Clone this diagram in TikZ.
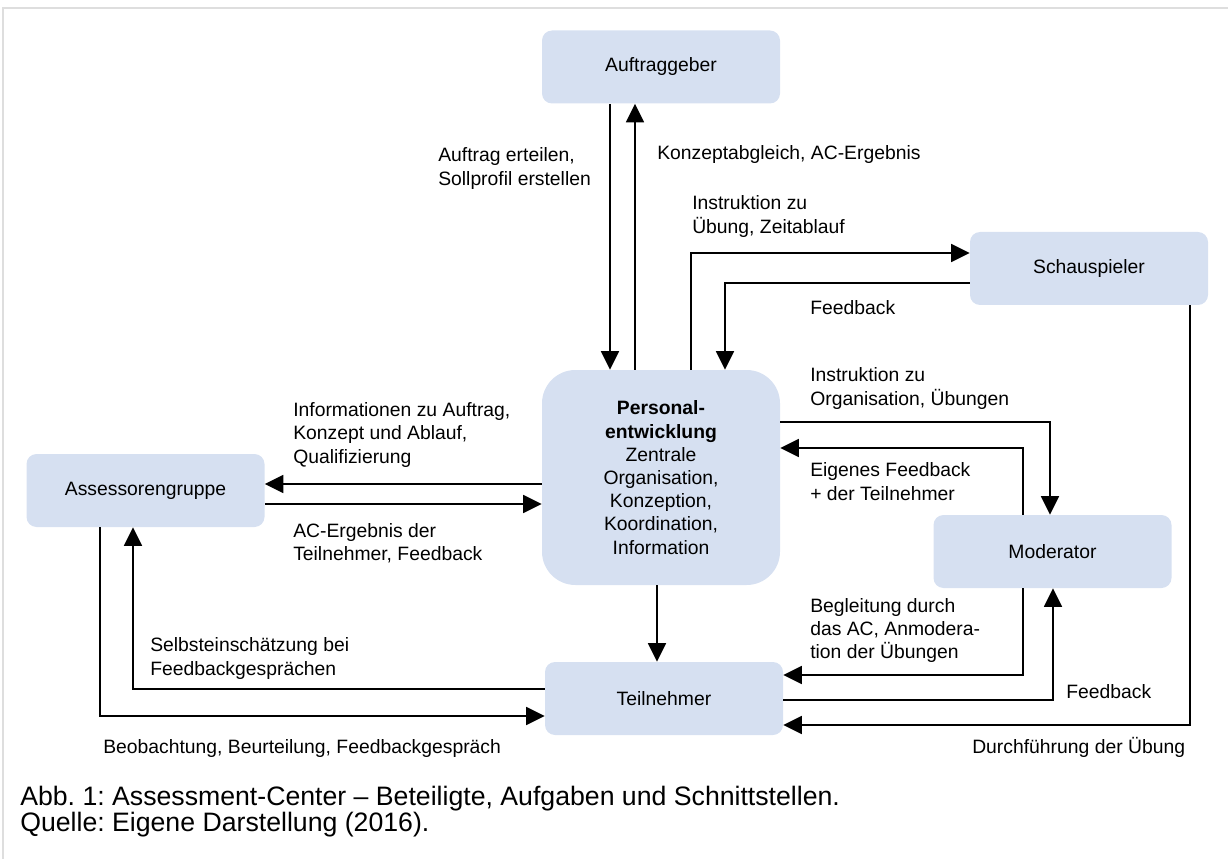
\documentclass[tikz,border=0pt]{standalone}
\usepackage{fontspec}
\setmainfont{Liberation Sans}
\usetikzlibrary{arrows.meta}
\usetikzlibrary{calc}

\definecolor{boxblue}{RGB}{214,224,241}
\definecolor{framegray}{RGB}{222,222,222}
\frenchspacing

\begin{document}
\begin{tikzpicture}[x=0.75pt,y=-0.75pt,>={Triangle[length=14pt,width=13.5pt]},
		every node/.style={font=\fontsize{14.5}{17.4}\selectfont},
		box/.style={rounded corners=7.5pt,fill=boxblue,minimum width=178.5pt,minimum height=54.75pt,align=center,inner sep=0pt},
		lbl/.style={anchor=west,align=left,inner sep=0pt},
		flow/.style={line width=1.3pt,->}]
		\useasboundingbox (0,0) rectangle (1228,859);
		\draw[framegray,line width=1.5pt] (3,859) -- (3,8) -- (1228,8);

		% Beteiligte
		\node at (661,67)     (auftrag) [box] {Auftraggeber};
		\node at (1089,268.5) (schau)   [box] {Schauspieler};
		\node at (661,477.5)  (pe)      [box,minimum height=161.25pt,rounded corners=25pt] {\textbf{Personal-}\\\textbf{entwicklung}\\Zentrale\\Organisation,\\Konzeption,\\Koordination,\\Information};
		\node at (145.5,490.5) (assess) [box] {Assessorengruppe};
		\node at (1052.5,551.5) (moder) [box] {Moderator};
		\node at (664,698.5)  (teiln)   [box] {Teilnehmer};

		% Auftraggeber <-> Personalentwicklung
		\draw[flow] (auftrag.south -| 610,0) -- (pe.north -| 610,0);
		\draw[flow] (pe.north -| 635,0) -- (auftrag.south -| 635,0);
		\node[lbl] at (438,168.5) (l1) {Auftrag erteilen,\\Sollprofil erstellen};
		\node[lbl] at (657,155) (l2) {Konzeptabgleich, AC-Ergebnis};

		% Schauspieler
		\draw[flow] (pe.north -| 691,0) |- (schau.west |- 0,253);
		\draw[flow] (schau.west |- 0,283) -| (pe.north -| 725,0);
		\node[lbl] at (692,216.5) (l3) {Instruktion zu\\Übung, Zeitablauf};
		\node[lbl] at (810,308) (l4) {Feedback};

		% Moderator
		\draw[flow] (pe.east |- 0,422) -| (moder.north -| 1050,0);
		\draw[flow] (moder.north -| 1023,0) |- (pe.east |- 0,448);
		\node[lbl] at (810,388.5) (l5) {Instruktion zu\\Organisation, Übungen};
		\node[lbl] at (810,481.5) (l6) {Eigenes Feedback\\+ der Teilnehmer};

		% Assessorengruppe
		\draw[flow] (pe.west |- 0,484) -- (assess.east |- 0,484);
		\draw[flow] (assess.east |- 0,504) -- (pe.west |- 0,504);
		\node[lbl] at (293,435) (l7) {Informationen zu Auftrag,\\Konzept und Ablauf,\\Qualifizierung};
		\node[lbl] at (293,543.5) (l8) {AC-Ergebnis der\\Teilnehmer, Feedback};

		% Teilnehmer
		\draw[flow] (pe.south -| 657,0) -- (teiln.north -| 657,0);
		\draw[flow] (assess.south -| 100,0) |- (teiln.west |- 0,716);
		\draw[flow] (teiln.west |- 0,689) -| (assess.south -| 133,0);
		\node[lbl] at (150,658.5) (l9) {Selbsteinschätzung bei\\Feedbackgesprächen};
		\node[lbl] at (103,748) (l10) {Beobachtung, Beurteilung, Feedbackgespräch};

		\draw[flow] (moder.south -| 1023,0) |- (teiln.east |- 0,675);
		\draw[flow] (teiln.east |- 0,700) -| (moder.south -| 1053,0);
		\draw[flow] (schau.south -| 1190,0) |- (teiln.east |- 0,725);
		\node[lbl] at (810,630.5) (l11) {Begleitung durch\\das AC, Anmodera-\\tion der Übungen};
		\node[lbl] at (1066,692) (l12) {Feedback};
		\node[lbl] at (972,747) (l13) {Durchführung der Übung};

		% Quelle
		\node[lbl,font=\fontsize{20}{17.6}\selectfont] at (20,811.5) (cap) {Abb. 1: Assessment-Center – Beteiligte, Aufgaben und Schnittstellen.\\Quelle: Eigene Darstellung (2016).};
	\end{tikzpicture}
\end{document}
